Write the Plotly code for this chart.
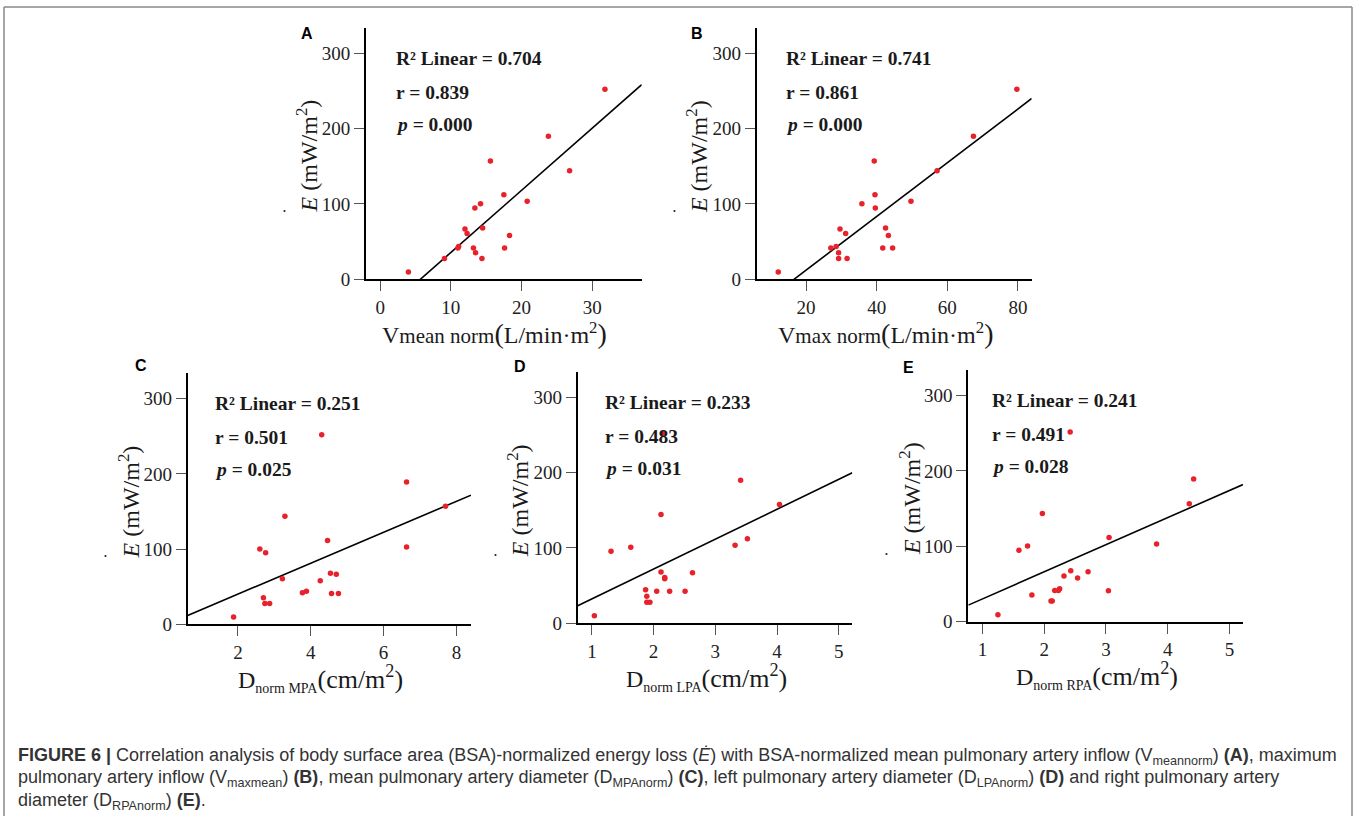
import plotly.graph_objects as go

W, H = 1359, 827

# ---------------- data ----------------
panel_letters = ["A", "B", "C", "D", "E"]

x_A = [4.0, 9.1, 11.0, 11.1, 12.0, 12.3, 13.2, 13.5, 13.4, 14.2, 14.4, 14.5, 15.6, 17.5, 17.6, 18.3, 20.8, 23.8, 26.8, 31.8]
y_A = [9.6, 27.5, 41.4, 43.6, 66.7, 60.6, 41.4, 35.3, 94.6, 100.3, 27.5, 68.0, 157.0, 112.1, 41.4, 58.0, 103.4, 189.7, 143.9, 252.1]

x_B = [12.1, 27.0, 28.5, 29.2, 29.2, 29.6, 31.2, 31.6, 35.8, 39.3, 39.5, 39.6, 41.7, 42.5, 43.3, 44.5, 49.7, 57.1, 67.4, 79.7]
y_B = [9.6, 41.4, 43.6, 35.3, 27.5, 66.7, 60.6, 27.5, 100.3, 157.0, 112.1, 94.6, 41.4, 68.0, 58.0, 41.4, 103.4, 143.9, 189.7, 252.1]

x_C = [1.88, 2.60, 2.76, 2.70, 2.74, 2.87, 3.22, 3.29, 3.77, 3.88, 4.26, 4.30, 4.46, 4.54, 4.57, 4.70, 4.76, 6.63, 6.63, 7.70]
y_C = [9.6, 100.3, 95.1, 35.3, 27.5, 27.5, 60.6, 143.9, 41.9, 44.0, 58.0, 252.1, 111.6, 68.0, 41.0, 66.7, 41.0, 189.3, 102.9, 157.0]

x_D = [1.04, 1.31, 1.63, 1.87, 1.89, 1.89, 1.94, 2.05, 2.12, 2.12, 2.16, 2.18, 2.18, 2.26, 2.51, 2.63, 3.32, 3.41, 3.52, 4.04]
y_D = [10.0, 95.6, 100.9, 44.5, 35.8, 27.9, 27.9, 42.4, 144.5, 68.1, 252.0, 60.7, 59.0, 42.4, 42.4, 67.2, 103.5, 190.0, 112.2, 157.6]

x_E = [1.25, 1.59, 1.73, 1.80, 1.97, 2.11, 2.13, 2.17, 2.23, 2.25, 2.32, 2.42, 2.43, 2.54, 2.71, 3.04, 3.05, 3.82, 4.35, 4.42]
y_E = [9.2, 94.6, 100.3, 35.3, 143.5, 27.5, 27.5, 41.4, 41.4, 43.6, 60.6, 251.6, 67.6, 58.0, 66.3, 41.0, 111.6, 102.9, 156.6, 189.3]

xs = [x_A, x_B, x_C, x_D, x_E]
ys = [y_A, y_B, y_C, y_D, y_E]

stats_r2 = ["0.704", "0.741", "0.251", "0.233", "0.241"]
stats_r = ["0.839", "0.861", "0.501", "0.483", "0.491"]
stats_p = ["0.000", "0.000", "0.025", "0.031", "0.028"]

fit_slope = [8.25, 3.565, 20.57, 39.7, 35.98]
fit_intercept = [-47.0, -59.2, -0.95, -7.4, -5.83]

x_tickvals = [[0, 10, 20, 30], [20, 40, 60, 80], [2, 4, 6, 8], [1, 2, 3, 4, 5], [1, 2, 3, 4, 5]]
y_tickvals = [0, 100, 200, 300]

x_titles = [
    "V<span style='font-size:21px'>mean norm</span><span style='font-size:28px'>(</span>L/min·m<sup>2</sup><span style='font-size:28px'>)</span>",
    "V<span style='font-size:21px'>max norm</span><span style='font-size:28px'>(</span>L/min·m<sup>2</sup><span style='font-size:28px'>)</span>",
    "D<sub><span style='font-size:14px'>norm MPA</span></sub><span style='font-size:26px'>(cm/m<sup>2</sup>)</span>",
    "D<sub><span style='font-size:14px'>norm LPA</span></sub><span style='font-size:26px'>(cm/m<sup>2</sup>)</span>",
    "D<sub><span style='font-size:14px'>norm RPA</span></sub><span style='font-size:26px'>(cm/m<sup>2</sup>)</span>",
]
y_title = "<i>E</i> (mW/m<sup>2</sup>)"

caption_lines = [
    "<b>FIGURE 6 |</b> Correlation analysis of body surface area (BSA)-normalized energy loss (<i>Ė</i>) with BSA-normalized mean pulmonary artery inflow (V<sub>meannorm</sub>) <b>(A)</b>, maximum",
    "pulmonary artery inflow (V<sub>maxmean</sub>) <b>(B)</b>, mean pulmonary artery diameter (D<sub>MPAnorm</sub>) <b>(C)</b>, left pulmonary artery diameter (D<sub>LPAnorm</sub>) <b>(D)</b> and right pulmonary artery",
    "diameter (D<sub>RPAnorm</sub>) <b>(E)</b>.",
]

# ---------------- layout geometry (pixels) ----------------
boxes = [  # left, right, top, bottom
    (366.0, 641.7, 28.0, 283.0),
    (756.7, 1031.7, 28.0, 283.0),
    (187.7, 471.0, 378.3, 632.7),
    (577.7, 852.3, 376.7, 631.7),
    (968.3, 1243.0, 375.0, 630.0),
]
x_ranges = [[-2.0, 37.0], [6.0, 83.9], [0.62, 8.40], [0.77, 5.22], [0.77, 5.22]]
y_range = [0, 334]
stat_left = [28, 27, 25, 25, 22]
letter_pos = [(306.7, 34), (696.5, 34), (141, 370), (520, 371), (908, 372.5)]

SERIF = "Liberation Serif, Times New Roman, serif"
SANS = "Liberation Sans, Arial, sans-serif"


def px(x):
    return x / W


def py(y):
    return 1 - y / H


fig = go.Figure()
layout = dict(
    width=W, height=H,
    margin=dict(l=0, r=0, t=0, b=0),
    paper_bgcolor="white", plot_bgcolor="white",
    showlegend=False,
    font=dict(family=SERIF, color="#1a1a1a"),
)
annotations = []

for i in range(5):
    k = "" if i == 0 else str(i + 1)
    L, R, T, B = boxes[i]
    layout["xaxis" + k] = dict(
        domain=[px(L), px(R)], range=x_ranges[i], anchor="y" + k,
        showline=True, linecolor="black", linewidth=1.8,
        ticks="outside", ticklen=10, tickwidth=1, tickcolor="#555",
        tickvals=x_tickvals[i], showgrid=False, zeroline=False,
        tickfont=dict(family=SERIF, size=19, color="#222"),
    )
    layout["yaxis" + k] = dict(
        domain=[py(B), py(T)], range=y_range, anchor="x" + k,
        showline=True, linecolor="black", linewidth=1.8,
        ticks="outside", ticklen=10, tickwidth=1, tickcolor="#555",
        tickvals=y_tickvals, showgrid=False, zeroline=False,
        tickfont=dict(family=SERIF, size=19, color="#222"),
    )
    # fit line
    lx = x_ranges[i]
    ly = [fit_slope[i] * v + fit_intercept[i] for v in lx]
    fig.add_trace(go.Scatter(x=lx, y=ly, mode="lines", xaxis="x" + k, yaxis="y" + k,
                             line=dict(color="black", width=1.6), hoverinfo="skip"))
    # points
    fig.add_trace(go.Scatter(x=xs[i], y=ys[i], mode="markers", xaxis="x" + k, yaxis="y" + k,
                             marker=dict(color="#e8222b", size=5.5, line=dict(width=0))))

    # stats text
    lines = ["R² Linear = " + stats_r2[i], "r = " + stats_r[i], "<i>p</i> = " + stats_p[i]]
    for j, off in enumerate([31.0, 65.5, 98.0]):
        annotations.append(dict(
            x=px(L + stat_left[i]), y=py(T + off), xref="paper", yref="paper",
            text="<b>" + lines[j] + "</b>", showarrow=False, xanchor="left", yanchor="middle",
            font=dict(family=SERIF, size=19.5, color="#1a1a1a"),
        ))
    # panel letter
    annotations.append(dict(
        x=px(letter_pos[i][0]), y=py(letter_pos[i][1]), xref="paper", yref="paper",
        text="<b>" + panel_letters[i] + "</b>", showarrow=False, xanchor="center", yanchor="middle",
        font=dict(family=SANS, size=16, color="black"),
    ))
    # x title
    annotations.append(dict(
        x=px((L + R) / 2 - 9), y=py(B + 55), xref="paper", yref="paper",
        text=x_titles[i], showarrow=False, xanchor="center", yanchor="middle",
        font=dict(family=SERIF, size=24, color="#1a1a1a"),
    ))
    # y title
    annotations.append(dict(
        x=px(L - 59), y=py((T + B) / 2 + 3), xref="paper", yref="paper",
        text=y_title, showarrow=False, xanchor="center", yanchor="middle", textangle=-90,
        font=dict(family=SERIF, size=24, color="#1a1a1a"),
    ))
    # dot of E-dot
    annotations.append(dict(
        x=px(L - 82), y=py((T + B) / 2 + 59), xref="paper", yref="paper",
        text="•", showarrow=False, xanchor="center", yanchor="middle",
        font=dict(family=SERIF, size=8, color="#1a1a1a"),
    ))

# caption
for j, yc in enumerate([767.0, 789.5, 812.0]):
    annotations.append(dict(
        x=px(16), y=py(yc), xref="paper", yref="paper",
        text=caption_lines[j], showarrow=False, xanchor="left", yanchor="middle",
        font=dict(family=SANS, size=18, color="#333"),
    ))

layout["annotations"] = annotations
frame = dict(color="#888", width=1.5)
layout["shapes"] = [
    dict(type="line", xref="paper", yref="paper", x0=px(4), x1=px(1352), y0=py(7), y1=py(7), line=frame),
    dict(type="line", xref="paper", yref="paper", x0=px(4), x1=px(4), y0=py(7), y1=0, line=frame),
    dict(type="line", xref="paper", yref="paper", x0=px(1352), x1=px(1352), y0=py(7), y1=0, line=frame),
]
fig.update_layout(**layout)
fig.write_html("out.html", config={"displayModeBar": False},
               post_script="document.body.style.margin='0';document.body.style.overflow='hidden';")
